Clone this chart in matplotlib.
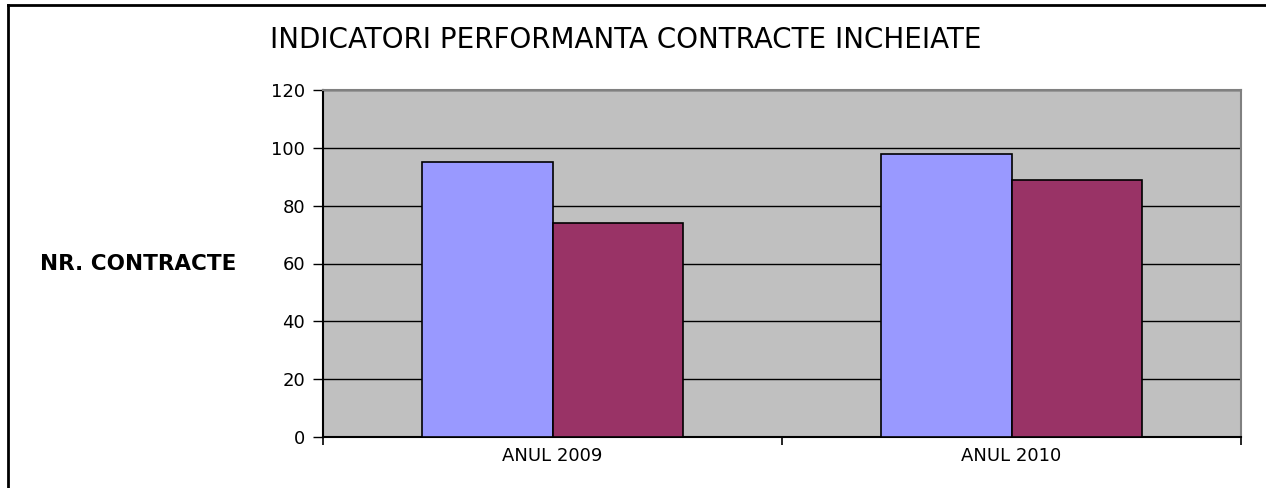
import matplotlib
matplotlib.use('Agg')
import matplotlib.pyplot as plt
from matplotlib.lines import Line2D
import numpy as np

# chart data
categories = ['ANUL 2009', 'ANUL 2010']
series_a = [95, 98]
series_b = [74, 89]
yticks = [0, 20, 40, 60, 80, 100, 120]

plt.rcParams['font.family'] = ['DejaVu Sans']

fig = plt.figure(figsize=(12.66, 4.88), dpi=100)
ax = fig.add_axes([323/1266, 1 - 437/488, (1241 - 323)/1266, (437 - 90)/488])

x = np.arange(len(categories))
w = 0.284
ax.bar(x - w/2, series_a, w, color='#9999FF', edgecolor='black', linewidth=1.2, zorder=3)
ax.bar(x + w/2, series_b, w, color='#993366', edgecolor='black', linewidth=1.2, zorder=3)

ax.set_facecolor('#C0C0C0')
ax.set_xlim(-0.5, len(categories) - 0.5)
ax.set_ylim(0, 120)
ax.set_yticks(yticks)
ax.yaxis.grid(True, color='black', linewidth=1)
ax.set_axisbelow(True)

# category labels centered, ticks at category boundaries
ax.set_xticks(x)
ax.set_xticklabels(categories, fontsize=13)
ax.tick_params(axis='x', length=0, pad=7)
ax.set_xticks(np.arange(-0.5, len(categories)), minor=True)
ax.tick_params(axis='x', which='minor', length=6, width=1.2, color='black', direction='out')
ax.tick_params(axis='y', length=7, width=1, labelsize=13, pad=6)

for s in ['top', 'right']:
    ax.spines[s].set_color('#808080')
    ax.spines[s].set_linewidth(1.5)
ax.spines['left'].set_color('black')
ax.spines['left'].set_linewidth(1.5)
ax.spines['bottom'].set_color('black')
ax.spines['bottom'].set_linewidth(1.5)

fig.text(626/1266, 1 - 40/488, 'INDICATORI PERFORMANTA CONTRACTE INCHEIATE',
         ha='center', va='center', fontsize=20)
fig.text(40/1266, 1 - 264/488, 'NR. CONTRACTE', ha='left', va='center',
         fontsize=15.5, fontweight='bold')

# outer frame (left and top)
fig.add_artist(Line2D([8/1266, 8/1266], [0, 1 - 5/488], color='black', linewidth=2))
fig.add_artist(Line2D([8/1266, 1], [1 - 5/488, 1 - 5/488], color='black', linewidth=2))

fig.savefig('out.png', dpi=100)
